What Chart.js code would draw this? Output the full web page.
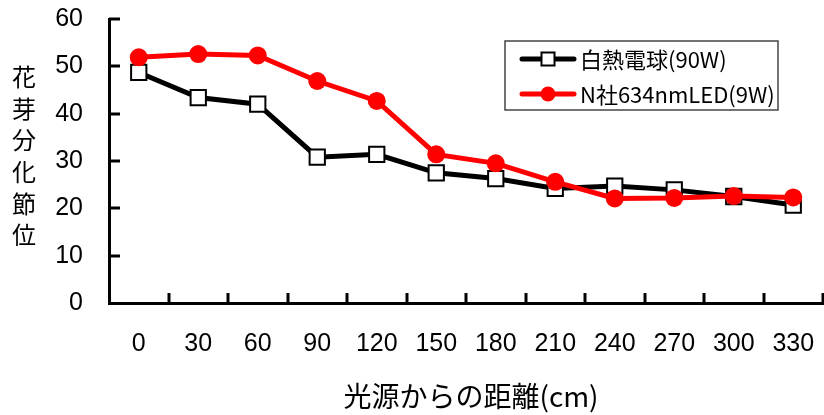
<!DOCTYPE html>
<html>
<head>
<meta charset="utf-8">
<script src="https://cdn.jsdelivr.net/npm/chart.js@4/dist/chart.umd.min.js"></script>
<style>
  html, body { margin: 0; padding: 0; background: #fff; }
  #wrap { width: 824px; height: 415px; position: relative; }
</style>
</head>
<body>
<div id="wrap"><canvas id="c" width="824" height="415"></canvas></div>
<script>
// Distance from the light source (cm)
const distances = ['0', '30', '60', '90', '120', '150', '180', '210', '240', '270', '300', '330'];
// Flower bud differentiation node
const bulbValues = [48.7, 43.4, 42.0, 30.8, 31.4, 27.5, 26.3, 24.2, 24.7, 23.9, 22.5, 20.7];
const ledValues  = [51.9, 52.6, 52.3, 46.9, 42.7, 31.4, 29.5, 25.6, 22.1, 22.2, 22.6, 22.3];
const seriesNames = ['白熱電球(90W)', 'N社634nmLED(9W)'];
const yTitle = '花芽分化節位';
const xTitle = '光源からの距離(cm)';
const yMin = 0, yMax = 60, yStep = 10;

const numFont = "'Liberation Sans', Arial, sans-serif";
const jpFont = "'Noto Sans CJK JP', 'Noto Sans', sans-serif";

// Inner tick marks, stacked vertical y title, x title and a boxed legend
const decorations = {
  id: 'decorations',
  afterDraw(chart) {
    const ctx = chart.ctx;
    const x = chart.scales.x, y = chart.scales.y;
    const area = chart.chartArea;
    ctx.save();
    ctx.strokeStyle = '#000';
    ctx.lineWidth = 3;
    ctx.lineCap = 'butt';
    // y ticks pointing inward
    for (let v = yMin + yStep; v <= yMax; v += yStep) {
      const py = Math.round(y.getPixelForValue(v));
      ctx.beginPath();
      ctx.moveTo(area.left, py);
      ctx.lineTo(area.left + 11, py);
      ctx.stroke();
    }
    // x ticks at category boundaries, pointing inward
    const step = (x.right - x.left) / distances.length;
    for (let k = 1; k <= distances.length; k++) {
      const px = Math.round(x.left + k * step);
      ctx.beginPath();
      ctx.moveTo(px, area.bottom);
      ctx.lineTo(px, area.bottom - 10);
      ctx.stroke();
    }

    // y title, one character per line
    ctx.fillStyle = '#000';
    ctx.font = '24px ' + jpFont;
    ctx.textAlign = 'center';
    ctx.textBaseline = 'middle';
    const chars = Array.from(yTitle);
    chars.forEach((ch, i) => ctx.fillText(ch, 24, 77 + i * 31.6));

    // x title
    ctx.font = '28px ' + jpFont;
    ctx.fillText(xTitle, 471, 396);

    // legend
    const lx = 505, ly = 41, lw = 273, lh = 69;
    ctx.fillStyle = '#fff';
    ctx.fillRect(lx, ly, lw, lh);
    ctx.strokeStyle = '#444';
    ctx.lineWidth = 1.5;
    ctx.strokeRect(lx, ly, lw, lh);
    const rows = [
      { ds: chart.data.datasets[0], cy: 59 },
      { ds: chart.data.datasets[1], cy: 94 }
    ];
    rows.forEach(r => {
      const ds = r.ds;
      ctx.strokeStyle = ds.borderColor;
      ctx.lineWidth = ds.borderWidth;
      ctx.lineCap = 'round';
      ctx.beginPath();
      ctx.moveTo(522, r.cy);
      ctx.lineTo(574, r.cy);
      ctx.stroke();
      ctx.lineCap = 'butt';
      if (ds.pointStyle === 'rect') {
        const s = 13;
        ctx.fillStyle = ds.pointBackgroundColor;
        ctx.fillRect(548 - s / 2, r.cy - s / 2, s, s);
        ctx.strokeStyle = ds.pointBorderColor;
        ctx.lineWidth = 2;
        ctx.strokeRect(548 - s / 2, r.cy - s / 2, s, s);
      } else {
        ctx.fillStyle = ds.pointBackgroundColor;
        ctx.beginPath();
        ctx.arc(548, r.cy, 7.5, 0, Math.PI * 2);
        ctx.fill();
      }
      ctx.fillStyle = '#000';
      ctx.font = '22px ' + jpFont;
      ctx.textAlign = 'left';
      ctx.textBaseline = 'middle';
      ctx.fillText(ds.label, 580, r.cy + 1);
    });
    ctx.restore();
  }
};

new Chart(document.getElementById('c'), {
  type: 'line',
  data: {
    labels: distances,
    datasets: [
      {
        label: seriesNames[0],
        data: bulbValues,
        borderColor: '#000',
        borderWidth: 5,
        pointStyle: 'rect',
        pointRadius: 10.8,
        pointBackgroundColor: '#fff',
        pointBorderColor: '#000',
        pointBorderWidth: 2,
        tension: 0,
        order: 2
      },
      {
        label: seriesNames[1],
        data: ledValues,
        borderColor: '#ff0000',
        borderWidth: 5,
        pointStyle: 'circle',
        pointRadius: 9,
        pointBackgroundColor: '#ff0000',
        pointBorderColor: '#ff0000',
        pointBorderWidth: 0,
        tension: 0,
        order: 1
      }
    ]
  },
  options: {
    responsive: false,
    animation: false,
    events: [],
    layout: { autoPadding: false, padding: { top: 19, right: 1, left: 0, bottom: 0 } },
    plugins: {
      legend: { display: false },
      tooltip: { enabled: false }
    },
    scales: {
      x: {
        type: 'category',
        offset: true,
        grid: { display: false, offset: true, drawTicks: false },
        border: { display: true, color: '#000', width: 3 },
        ticks: {
          color: '#000',
          font: { family: numFont, size: 25 },
          padding: 26,
          maxRotation: 0,
          autoSkip: false
        },
        afterFit(scale) {
          scale.height = 112;
          scale.paddingLeft = 0;
          scale.paddingRight = 0;
        }
      },
      y: {
        min: yMin,
        max: yMax,
        grid: { display: false, drawTicks: false },
        border: { display: true, color: '#000', width: 3 },
        ticks: {
          stepSize: yStep,
          color: '#000',
          font: { family: numFont, size: 25 },
          padding: 26
        },
        afterFit(scale) {
          scale.width = 109;
          scale.paddingTop = 0;
          scale.paddingBottom = 0;
        }
      }
    }
  },
  plugins: [decorations]
});
</script>
</body>
</html>
